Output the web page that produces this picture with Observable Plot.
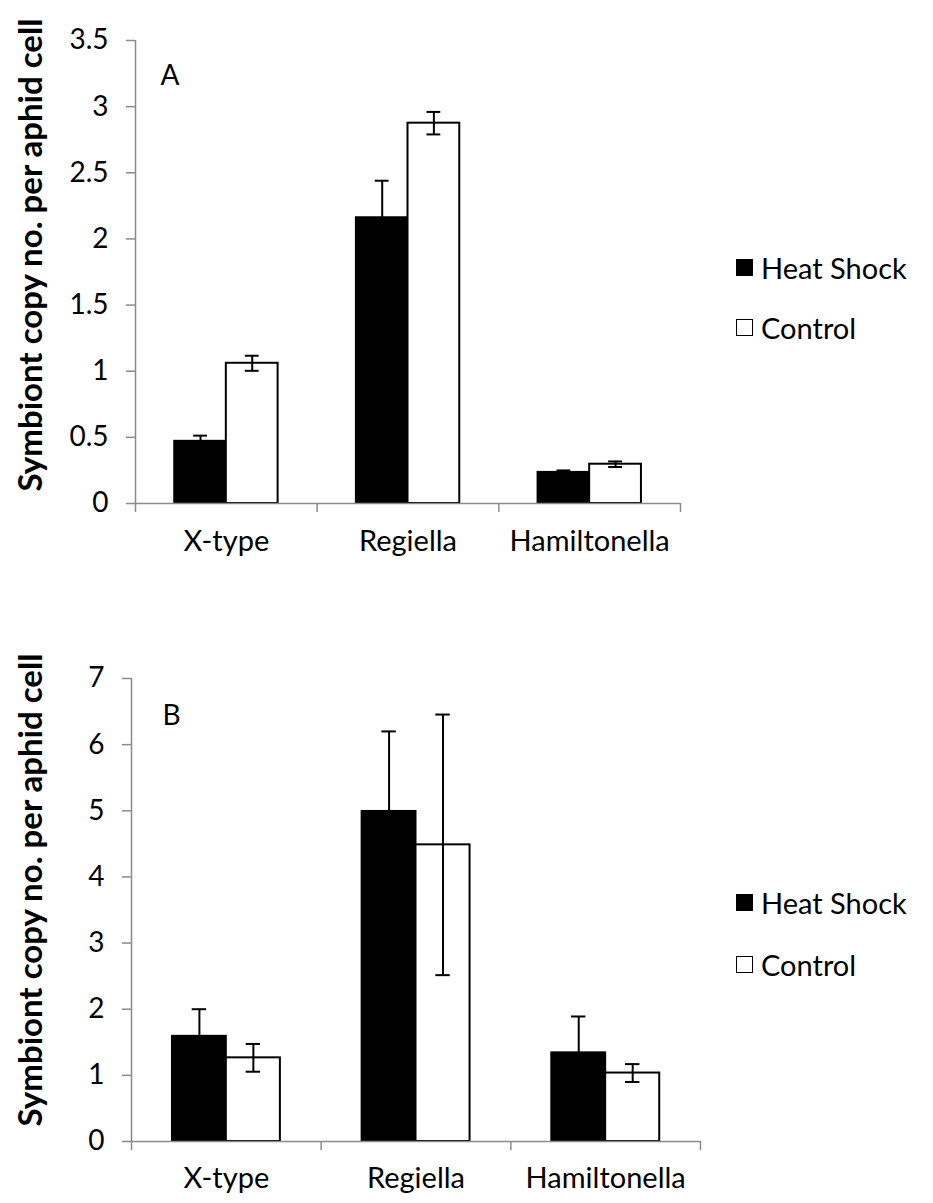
<!DOCTYPE html>
<html>
<head>
<meta charset="utf-8">
<script src="https://cdn.jsdelivr.net/npm/d3@7"></script>
<script src="https://cdn.jsdelivr.net/npm/@observablehq/plot@0.6"></script>
<style>
  html, body { margin: 0; padding: 0; background: #fff; }
  #page { position: relative; width: 933px; height: 1203px; overflow: hidden; font-family: Lato, "Open Sans", sans-serif; }
  .panel { position: absolute; left: 0; }
  .panel svg { display: block; }
  .panel g[aria-label^="x-axis"] path, .panel g[aria-label^="x-axis"] line,
  .panel g[aria-label^="y-axis"] path, .panel g[aria-label^="y-axis"] line {
    stroke: #8a8a8a; stroke-width: 1.5px;
  }
  .ytitle {
    position: absolute; font-weight: 700; font-size: 33px; color: #000;
    white-space: nowrap; transform: translate(-50%, -50%) rotate(-90deg);
  }
  .legend-item { position: absolute; display: flex; align-items: center; font-size: 29px; color: #000; line-height: 1; }
  .swatch { width: 17px; height: 17px; box-sizing: border-box; margin-right: 8px; }
</style>
</head>
<body>
<div id="page"></div>
<script>
// Symbiont copy number per aphid cell, heat-shocked vs control aphids
const categories = ["X-type", "Regiella", "Hamiltonella"];
const groups = ["Heat Shock", "Control"];

// Panel A
const heatShockA = [0.47, 2.16, 0.235];
const heatShockErrA = [0.043, 0.28, 0.015];
const controlA = [1.06, 2.875, 0.297];
const controlErrA = [0.057, 0.085, 0.021];
const yTicksA = [0, 0.5, 1, 1.5, 2, 2.5, 3, 3.5];

// Panel B
const heatShockB = [1.59, 4.99, 1.34];
const heatShockErrB = [0.41, 1.21, 0.55];
const controlB = [1.265, 4.485, 1.035];
const controlErrB = [0.21, 1.97, 0.135];
const yTicksB = [0, 1, 2, 3, 4, 5, 6, 7];

// Bar layout within each category slot (fractions of one slot)
const slotStart = 0.216, slotMid = 0.5, slotEnd = 0.785, capHalf = 0.038;

function buildRows(hs, hsErr, ctl, ctlErr) {
  const rows = [];
  categories.forEach((cat, i) => {
    rows.push({cat, group: groups[0], value: hs[i], err: hsErr[i], x1: i + slotStart, x2: i + slotMid});
    rows.push({cat, group: groups[1], value: ctl[i], err: ctlErr[i], x1: i + slotMid, x2: i + slotEnd});
  });
  rows.forEach(r => { r.xc = (r.x1 + r.x2) / 2; });
  return rows;
}

function panel({rows, yTicks, letter, top, height, marginTop, marginBottom, marginLeft, marginRight, letterDx, letterDy, labelDy}) {
  const yMax = yTicks[yTicks.length - 1];
  const chart = Plot.plot({
    width: 933,
    height,
    marginTop, marginBottom, marginLeft, marginRight,
    style: {fontFamily: "Lato, 'Open Sans', sans-serif", fontSize: "28px", background: "transparent", color: "#000"},
    x: {domain: [0, categories.length], ticks: d3.range(categories.length + 1), tickFormat: () => "", tickSize: 9, label: null},
    y: {domain: [0, yMax], ticks: yTicks, tickFormat: d => String(d), tickSize: 9, tickPadding: 18, label: null},
    marks: [
      Plot.ruleX([0], {stroke: "#8a8a8a", strokeWidth: 1.5}),
      Plot.rect(rows, {
        x1: "x1", x2: "x2", y1: 0, y2: "value",
        fill: d => d.group === groups[0] ? "#000" : "#fff",
        stroke: "#000", strokeWidth: 2
      }),
      Plot.ruleY([0], {stroke: "#8a8a8a", strokeWidth: 1.5}),
      // error bars
      Plot.ruleX(rows, {x: "xc", y1: d => d.value - d.err, y2: d => d.value + d.err, stroke: "#000", strokeWidth: 2}),
      Plot.ruleY(rows, {y: d => d.value + d.err, x1: d => d.xc - capHalf, x2: d => d.xc + capHalf, stroke: "#000", strokeWidth: 2}),
      Plot.ruleY(rows, {y: d => d.value - d.err, x1: d => d.xc - capHalf, x2: d => d.xc + capHalf, stroke: "#000", strokeWidth: 2}),
      // category labels
      Plot.text(categories, {x: (d, i) => i + 0.5, y: 0, dy: labelDy, text: d => d, fill: "#000", fontSize: 29}),
      // panel letter
      Plot.text([letter], {frameAnchor: "top-left", dx: letterDx, dy: letterDy, text: d => d, textAnchor: "start", fill: "#000"})
    ]
  });
  const wrap = document.createElement("div");
  wrap.className = "panel";
  wrap.style.top = top + "px";
  wrap.appendChild(chart);
  return wrap;
}

function yTitle(cx, cy) {
  const el = document.createElement("div");
  el.className = "ytitle";
  el.style.left = cx + "px";
  el.style.top = cy + "px";
  el.textContent = "Symbiont copy no. per aphid cell";
  return el;
}

function legendItem(label, dark, left, cy) {
  const item = document.createElement("div");
  item.className = "legend-item";
  item.style.left = left + "px";
  item.style.top = (cy - 15) + "px";
  item.style.height = "30px";
  const sw = document.createElement("div");
  sw.className = "swatch";
  sw.style.background = dark ? "#000" : "#fff";
  sw.style.border = dark ? "none" : "1.5px solid #000";
  const tx = document.createElement("span");
  tx.textContent = label;
  item.appendChild(sw);
  item.appendChild(tx);
  return item;
}

const page = document.getElementById("page");

page.appendChild(panel({
  rows: buildRows(heatShockA, heatShockErrA, controlA, controlErrA),
  yTicks: yTicksA, letter: "A", top: 0, height: 600,
  marginTop: 40, marginBottom: 97, marginLeft: 135, marginRight: 253,
  letterDx: 25, letterDy: 25, labelDy: 38
}));
page.appendChild(panel({
  rows: buildRows(heatShockB, heatShockErrB, controlB, controlErrB),
  yTicks: yTicksB, letter: "B", top: 640, height: 563,
  marginTop: 38, marginBottom: 62, marginLeft: 131, marginRight: 233,
  letterDx: 31, letterDy: 27, labelDy: 37
}));

page.appendChild(yTitle(29, 255));
page.appendChild(yTitle(29, 890));

page.appendChild(legendItem(groups[0], true, 736, 267));
page.appendChild(legendItem(groups[1], false, 736, 327));
page.appendChild(legendItem(groups[0], true, 736, 902));
page.appendChild(legendItem(groups[1], false, 736, 964));
</script>
</body>
</html>
